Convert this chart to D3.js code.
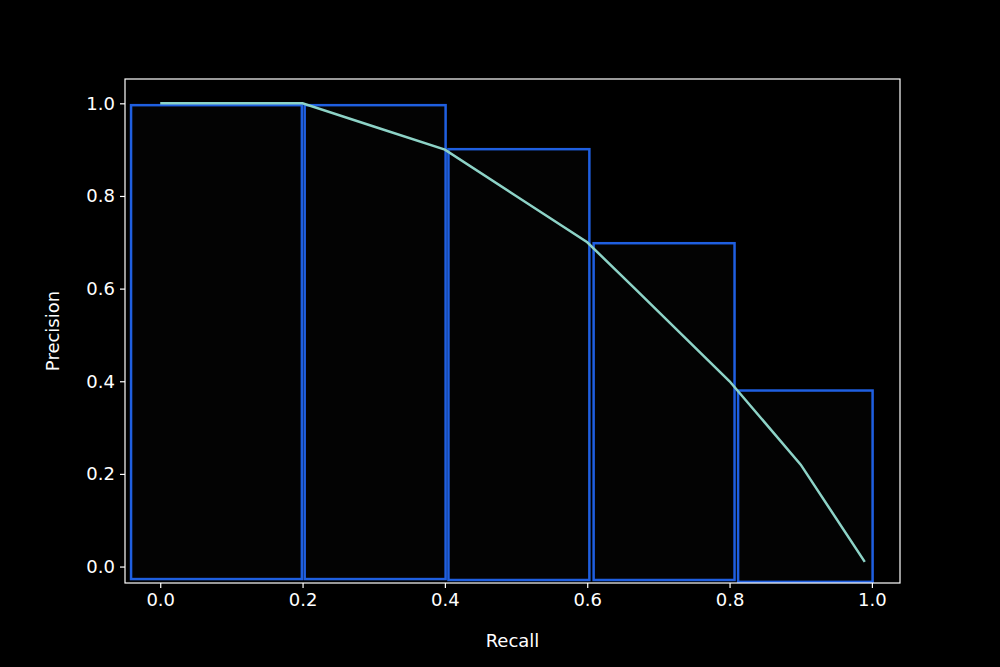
<!DOCTYPE html>
<html><head><meta charset="utf-8">
<script src="https://cdn.jsdelivr.net/npm/d3@7"></script>
<style>body{margin:0;background:#000}text{font-family:"DejaVu Sans",sans-serif}</style>
</head><body>
<svg width="1000" height="667"></svg>
<script>
// bars: left edge, right edge, top, bottom (data units)
var barX0 = [-0.041, 0.203, 0.405, 0.609, 0.812];
var barX1 = [0.199, 0.401, 0.603, 0.807, 1.001];
var barTop = [0.996, 0.996, 0.901, 0.698, 0.380];
var barBottom = [-0.027, -0.027, -0.029, -0.029, -0.033];
// precision-recall curve
var recall = [0.0, 0.2, 0.3, 0.4, 0.5, 0.6, 0.667, 0.8, 0.9, 0.99];
var precision = [1.0, 1.0, 0.95, 0.9, 0.8, 0.7, 0.6, 0.4, 0.22, 0.01];
var ticks = [0, 0.2, 0.4, 0.6, 0.8, 1.0];

var svg = d3.select("svg"),
    margin = { top: 79, right: 100, bottom: 84, left: 125 },
    width = +svg.attr("width") - margin.left - margin.right,
    height = +svg.attr("height") - margin.top - margin.bottom;

svg.append("rect").attr("width", 1000).attr("height", 667).attr("fill", "#000");

var x = d3.scaleLinear().domain([-0.0495, 1.0395]).range([0, width]);
var y = d3.scaleLinear().domain([-0.0355, 1.0525]).range([height, 0]);

var g = svg.append("g")
    .attr("transform", "translate(" + margin.left + "," + margin.top + ")");

g.selectAll(".bar")
    .data(barX0)
    .enter().append("rect")
    .attr("x", function (d) { return x(d); })
    .attr("y", function (d, i) { return y(barTop[i]); })
    .attr("width", function (d, i) { return x(barX1[i]) - x(d); })
    .attr("height", function (d, i) { return y(barBottom[i]) - y(barTop[i]); })
    .attr("fill", "#030303")
    .attr("stroke", "#1f5fe0")
    .attr("stroke-width", 2.5);

g.append("path")
    .datum(recall)
    .attr("fill", "none")
    .attr("stroke", "#8dd3c7")
    .attr("stroke-width", 2.5)
    .attr("d", d3.line()
        .x(function (d) { return x(d); })
        .y(function (d, i) { return y(precision[i]); }));

var fmt = d3.format(".1f");
var xa = g.append("g")
    .attr("transform", "translate(0," + height + ")")
    .call(d3.axisBottom(x).tickValues(ticks).tickFormat(fmt).tickSize(5).tickPadding(5));
var ya = g.append("g")
    .call(d3.axisLeft(y).tickValues(ticks).tickFormat(fmt).tickSize(5).tickPadding(5));
[xa, ya].forEach(function (a) {
    a.select(".domain").remove();
    a.selectAll("line").attr("stroke", "#fff").attr("stroke-width", 1.2);
    a.selectAll("text").attr("fill", "#fff").attr("font-size", 18);
});

g.append("rect")
    .attr("width", width).attr("height", height)
    .attr("fill", "none").attr("stroke", "#fff").attr("stroke-width", 1.2);

svg.append("text").attr("x", margin.left + width / 2).attr("y", 647)
    .attr("text-anchor", "middle").attr("fill", "#fff").attr("font-size", 18).text("Recall");
svg.append("text").attr("transform", "translate(59," + (margin.top + height / 2) + ") rotate(-90)")
    .attr("text-anchor", "middle").attr("fill", "#fff").attr("font-size", 18).text("Precision");
</script>
</body></html>
